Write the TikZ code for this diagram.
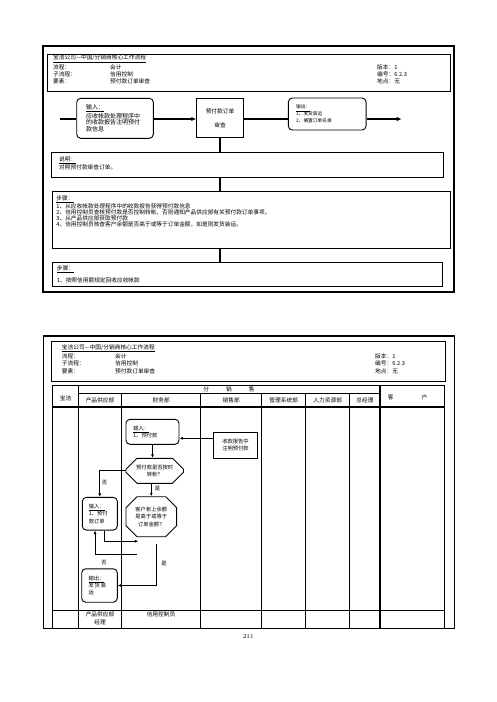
\documentclass[tikz,border=0pt]{standalone}
\usepackage{fontspec}
\newfontfamily\cjk{Noto Sans CJK SC}
\usetikzlibrary{arrows.meta,positioning,shapes.misc}

\begin{document}
\begin{tikzpicture}[x=1pt,y=-1pt]
  \tikzset{
    txt/.style={font=\cjk\fontsize{5.7}{6.7}\selectfont,inner sep=0pt,anchor=west},
    small/.style={font=\cjk\fontsize{5.3}{7.3}\selectfont,inner sep=0pt,align=center},
    hd/.style={font=\cjk\fontsize{5.7}{8.3}\selectfont,inner sep=0pt,align=center},
    frame/.style={draw,line width=1.1pt},
    box/.style={draw,line width=0.9pt},
    rbox/.style={draw,line width=0.9pt,rounded corners=4pt,inner sep=0pt},
    sqbox/.style={draw,line width=0.9pt,inner sep=0pt},
    octbox/.style={draw,line width=0.9pt,chamfered rectangle,chamfered rectangle xsep=#1,chamfered rectangle ysep=#1,inner sep=0pt},
    bigline/.style={line width=1.6pt},
    bigarr/.style={line width=1.6pt,-{Latex[length=5pt,width=4.5pt]}},
    arr/.style={line width=0.8pt,-{Latex[length=3.5pt,width=3pt]}},
    grid/.style={line width=0.7pt},
    heavy/.style={line width=1.6pt}
  }
  \fill[white] (0,0) rectangle (496,702);
  \useasboundingbox (0,0) rectangle (496,702);

  % ---- page one: process summary ----
  \draw[frame] (43,46) rectangle (454,292);
  \draw[box] (47.3,54) rectangle (450,91.7);
  \node[txt] (ttla) at (53,59) {\underline{宝洁公司—中国/分销商核心工作流程}};
  \foreach \k/\v/\r [count=\i] in {流程：/会计/版本：1,子流程：/信用控制/编号：6.2.3,要素：/预付款订单审查/地点：无}{
    \node[txt] (ka\i) at (53,{60.9+\i*6.7}) {\k};
    \node[txt] (va\i) at (110,{60.9+\i*6.7}) {\v};
    \node[txt] (ra\i) at (377,{60.9+\i*6.7}) {\r};
  }

  \coordinate (src) at (60,119);
  \coordinate (snk) at (401.7,119);
  \node[rbox,txt,anchor=center,font=\cjk\fontsize{6}{6.7}\selectfont,minimum width=76.6,minimum height=40,text width=58,align=left] (inp) at (115,118.3)
    {\underline{输入：}\\应收帐款处理程序中\\的收款报告注明预付\\款信息};
  \node[sqbox,txt,anchor=center,minimum width=46.6,minimum height=39.4,align=center] (chk) at (220,118)
    {预付款订单\\[7pt]审查};
  \node[rbox,anchor=center,font=\cjk\fontsize{4.7}{6.8}\selectfont,minimum width=77.7,minimum height=32,text width=62,align=left] (outp) at (327.2,114)
    {\underline{输出：}\\1、发货装运\\2、搁置订单名录};
  \draw[bigline] (src) -- (src -| inp.west);
  \draw[bigarr] (inp.east |- src) -- (chk.west |- src);
  \draw[bigline] (chk.east |- src) -- (outp.west |- src);
  \draw[bigarr] (outp.east |- src) -- (snk);

  \node[sqbox,minimum width=392.3,minimum height=25,anchor=north west] (note) at (51,151.7) {};
  \node[txt,anchor=north west,align=left,font=\cjk\fontsize{5.7}{6}\selectfont] (notet) at ([shift={(8,4.5)}]note.north west)
    {\underline{说明：}\\对照预付款审查订单。};
  \node[sqbox,minimum width=398.3,minimum height=57.6,anchor=north west] (steps) at (51.7,190.7) {};
  \node[txt,anchor=north west,align=left,font=\cjk\fontsize{5.7}{5.9}\selectfont] (stepst) at ([shift={(4.5,4.5)}]steps.north west)
    {\underline{步骤：}\\1、从应收帐款处理程序中的收款报告获得预付款信息\\2、信用控制员查核预付款是否控制转帐，否则通知产品供应部有关预付款订单事项。\\3、从产品供应部获取预付款\\4、信用控制员核查客户余额是否高于或等于订单金额，如是则发货装运。};
  \node[sqbox,minimum width=390,minimum height=24.3,anchor=north west] (last) at (51.7,261.7) {};
  \node[txt,anchor=north west,align=left,font=\cjk\fontsize{5.7}{6}\selectfont] (lastt) at ([shift={(5,4)}]last.north west)
    {\underline{步骤：}\\[4pt]1、按照信用额规定回收应收帐款};
  \draw[bigline] (chk.south) -- (chk.south |- note.north);
  \draw[bigline] (note.south -| chk.south) -- (steps.north -| chk.south);
  \draw[bigline] (steps.south -| chk.south) -- (last.north -| chk.south);

  % ---- page two: swim lanes ----
  \draw[frame] (43.3,336) rectangle (454.3,628.3);
  \draw[box] (51,341.7) rectangle (445,381.7);
  \node[txt] (ttlb) at (61.7,348.3) {\underline{宝洁公司—中国/分销商核心工作流程}};
  \foreach \k/\v/\r [count=\i] in {流程：/会计/版本：1,子流程：/信用控制/编号：6.2.3,要素：/预付款订单审查/地点：无}{
    \node[txt] (kb\i) at (61.7,{348.5+\i*7.5}) {\k};
    \node[txt] (vb\i) at (115,{348.5+\i*7.5}) {\v};
    \node[txt] (rb\i) at (375,{348.5+\i*7.5}) {\r};
  }

  \draw[grid] (52.7,385) rectangle (444.3,628.3);
  \draw[grid] (78.3,393.3) -- (380,393.3);
  \draw[heavy] (52.7,406.7) -- (444.3,406.7);
  \draw[grid] (52.7,610) -- (444.3,610);
  \draw[grid] (78.3,385) -- (78.3,406.7);
  \draw[heavy] (78.3,406.7) -- (78.3,610);
  \draw[grid] (78.3,610) -- (78.3,628.3);
  \foreach \x in {121.7,200.7,261.7,305.7,349.7}{ \draw[grid] (\x,393.3) -- (\x,628.3); }
  \draw[heavy] (380,385) -- (380,628.3);

  \node[hd] (hbj) at (65.5,398.3) {宝洁};
  \node[hd] (hfx) at (229,389.3) {分\hspace{17pt}销\hspace{17pt}售};
  \foreach \x/\t [count=\i] in {100/产品供应部,161.2/财务部,231.2/销售部,283.7/管理系统部,327.7/人力资源部,364.9/总经理}{
    \node[hd] (col\i) at (\x,400) {\t};
  }
  \node[hd] (hkh) at (407.5,397.5) {客\hspace{28pt}户};
  \node[hd] (mgr) at (100,618.2) {产品供应部\\经理};
  \node[hd] (clk) at (161,614) {信用控制员};
  \node[font=\fontsize{6}{7}\selectfont,inner sep=0pt] (pgno) at (248.3,636) {211};

  % flow
  \node[rbox,small,minimum width=53,minimum height=25,text width=38.4,align=left] (inA) at (152.5,431.8)
    {\underline{输入：}\\1、预付款};
  \node[sqbox,small,minimum width=44.4,minimum height=26] (rpt) at (235.5,445.3) {收款报告中\\注明预付款};
  \node[octbox=5.5pt,small,minimum width=57.5,minimum height=25] (q1) at (154.7,470.8) {预付款是否按时\\转帐？};
  \node[octbox=5.5pt,small,minimum width=50.7,minimum height=40] (q2) at (151.3,516.7) {客户帐上余额\\是高于或等于\\订单金额？};
  \node[rbox,small,minimum width=35,minimum height=32.7,text width=22,align=left] (inB) at (99.8,513.7)
    {\underline{输入：}\\1、预付\\款订单};
  \node[rbox,small,minimum width=35.6,minimum height=33.4,text width=22,align=left] (outB) at (99.5,585.5)
    {\underline{输出：}\\发\,货\,装\\运};

  \coordinate (j1) at (138.3,541.2);
  \coordinate (j2) at (136.7,554);
  \coordinate (j3) at (156.5,543.5);
  \draw[arr] ([yshift=7pt]rpt.west) -- ([yshift=7pt]rpt.west -| inA.east);
  \draw[arr] (inA.south) -- (inA.south |- q1.north);
  \draw[arr] (q1.west) -| (inB.north);
  \draw[arr] (q2.north |- q1.south) -- (q2.north);
  \draw[arr] ([xshift=4.5pt]inB.south) |- (j1);
  \draw[arr] (j2) -| ([xshift=-4.8pt]inB.south);
  \draw[arr] (j3) |- (outB.east);
  \node[small] (no1) at (104.5,482.7) {否};
  \node[small] (yes1) at (157.5,488.3) {是};
  \node[small] (no2) at (104,562.3) {否};
  \node[small] (yes2) at (164,564) {是};
\end{tikzpicture}
\end{document}
